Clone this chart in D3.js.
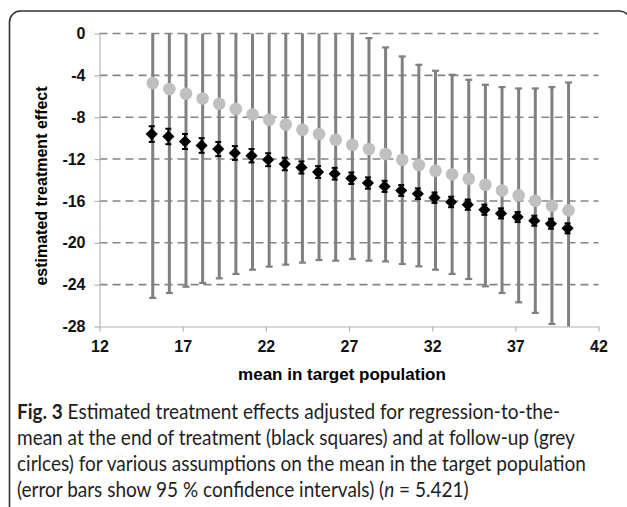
<!DOCTYPE html>
<html>
<head>
<meta charset="utf-8">
<script src="https://cdn.jsdelivr.net/npm/d3@7"></script>
<style>
  html, body { margin: 0; padding: 0; background: #fff; }
  svg { display: block; }
</style>
</head>
<body>
<div id="chart"></div>
<script>
// mean in target population (x positions of the 26 assumptions)
var meanTarget = [15.2, 16.2, 17.2, 18.2, 19.2, 20.2, 21.2, 22.2, 23.2, 24.2, 25.2, 26.2, 27.2,
                  28.2, 29.2, 30.2, 31.2, 32.2, 33.2, 34.2, 35.2, 36.2, 37.2, 38.2, 39.2, 40.2];

// end of treatment (black squares) and its half 95% CI
var endEffect = [-9.61, -9.84, -10.32, -10.70, -11.04, -11.42, -11.68, -12.06, -12.47, -12.80, -13.24, -13.40, -13.83,
                 -14.29, -14.61, -15.00, -15.31, -15.69, -16.10, -16.36, -16.84, -17.19, -17.54, -17.89, -18.18, -18.62];
var endHalfCI = [0.75, 0.74, 0.72, 0.70, 0.68, 0.66, 0.64, 0.62, 0.60, 0.58, 0.57, 0.56, 0.55,
                 0.54, 0.53, 0.52, 0.51, 0.50, 0.50, 0.49, 0.49, 0.48, 0.48, 0.48, 0.48, 0.48];

// follow-up (grey circles) with its 95% CI limits
var fuEffect = [-4.74, -5.31, -5.76, -6.21, -6.71, -7.22, -7.74, -8.24, -8.69, -9.20, -9.61, -10.15, -10.63,
                -11.04, -11.52, -12.06, -12.57, -13.11, -13.45, -13.88, -14.45, -15.00, -15.47, -15.98, -16.46, -16.90];
var fuUpper = [15.79, 14.18, 12.68, 11.42, 9.98, 8.54, 7.09, 5.80, 4.71, 3.50, 2.43, 1.41, 0.29,
               -0.44, -1.33, -2.19, -2.99, -3.56, -3.94, -4.42, -4.90, -5.12, -5.25, -5.25, -5.12, -4.68];
var fuLower = [-25.27, -24.80, -24.20, -23.84, -23.40, -22.98, -22.57, -22.28, -22.09, -21.90, -21.65, -21.71, -21.55,
               -21.71, -21.78, -22.03, -22.25, -22.57, -22.98, -23.46, -24.16, -24.80, -25.69, -26.70, -27.76, -29.12];

var xTicks = [12, 17, 22, 27, 32, 37, 42];
var yTicks = [0, -4, -8, -12, -16, -20, -24, -28];

var captionLines = [
  [{t: "Fig. 3", b: true}, {t: " Estimated treatment effects adjusted for regression-to-the-"}],
  [{t: "mean at the end of treatment (black squares) and at follow-up (grey"}],
  [{t: "cirlces) for various assumptions on the mean in the target population"}],
  [{t: "(error bars show 95 % confidence intervals) ("}, {t: "n", i: true}, {t: " = 5.421)"}]
];

var W = 627, H = 507;
var yMin = -28, yMax = 0;

var svg = d3.select("#chart").append("svg")
    .attr("width", W).attr("height", H);

// frame round figure
svg.append("rect")
    .attr("x", 9.5).attr("y", 11)
    .attr("width", 621).attr("height", 530)
    .attr("rx", 11)
    .style("fill", "none").style("stroke", "#333").style("stroke-width", 1.6);

var x = d3.scaleLinear().domain([12, 42]).range([99.5, 598.5]);
var y = d3.scaleLinear().domain([yMin, yMax]).range([326.5, 33.5]);

var tickFont = "'Liberation Sans', Arial, sans-serif";
var plain = function(d){ return String(d); }; // hyphen minus like the original

// dashed gridlines
svg.append("g").selectAll("line")
    .data(yTicks.filter(function(d){ return d > yMin; }))
    .enter().append("line")
    .attr("x1", x(12)).attr("x2", x(42))
    .attr("y1", function(d){ return y(d); })
    .attr("y2", function(d){ return y(d); })
    .style("stroke", "#858585").style("stroke-width", 1.6)
    .style("stroke-dasharray", "8,5");

// axes
var xAxis = svg.append("g")
    .attr("transform", "translate(0," + y(yMin) + ")")
    .call(d3.axisBottom(x).tickValues(xTicks).tickFormat(plain).tickSize(5).tickSizeOuter(0).tickPadding(9));
var yAxis = svg.append("g")
    .attr("transform", "translate(" + x(12) + ",0)")
    .call(d3.axisLeft(y).tickValues(yTicks).tickFormat(plain).tickSize(5).tickSizeOuter(0).tickPadding(9));

[xAxis, yAxis].forEach(function(a){
  a.selectAll("path, line").style("stroke", "#b3b3b3").style("stroke-width", 1.2);
  a.selectAll("text")
    .style("font-family", tickFont).style("font-weight", "bold")
    .style("font-size", "16px").style("fill", "#111");
});

// axis titles
svg.append("text")
    .attr("x", 342).attr("y", 380)
    .attr("text-anchor", "middle")
    .style("font-family", tickFont).style("font-weight", "bold").style("font-size", "17px")
    .text("mean in target population");
svg.append("text")
    .attr("transform", "translate(47,186) rotate(-90)")
    .attr("text-anchor", "middle")
    .style("font-family", tickFont).style("font-weight", "bold").style("font-size", "16px")
    .text("estimated treatment effect");

var clamp = function(v){ return Math.max(yMin, Math.min(yMax, v)); };
var idx = d3.range(meanTarget.length);

// follow-up CI bars (grey)
var fuBars = svg.append("g").selectAll("g").data(idx).enter().append("g");
fuBars.append("line")
    .attr("x1", function(i){ return x(meanTarget[i]); })
    .attr("x2", function(i){ return x(meanTarget[i]); })
    .attr("y1", function(i){ return y(clamp(fuUpper[i])); })
    .attr("y2", function(i){ return y(clamp(fuLower[i])); })
    .style("stroke", "#808080").style("stroke-width", 3);
fuBars.selectAll(".cap")
    .data(function(i){
      return [fuUpper[i], fuLower[i]].filter(function(v){ return v <= yMax && v >= yMin; })
        .map(function(v){ return {x: meanTarget[i], v: v}; });
    })
    .enter().append("line")
    .attr("class", "cap")
    .attr("x1", function(d){ return x(d.x) - 3.5; })
    .attr("x2", function(d){ return x(d.x) + 3.5; })
    .attr("y1", function(d){ return y(d.v); })
    .attr("y2", function(d){ return y(d.v); })
    .style("stroke", "#808080").style("stroke-width", 2.2);

// follow-up points
svg.append("g").selectAll("circle").data(idx).enter().append("circle")
    .attr("cx", function(i){ return x(meanTarget[i]); })
    .attr("cy", function(i){ return y(fuEffect[i]); })
    .attr("r", 6.3)
    .style("fill", "#c0c0c0");

// end of treatment CI bars (black)
var endBars = svg.append("g").selectAll("g").data(idx).enter().append("g")
    .style("stroke", "#000");
endBars.append("line")
    .attr("x1", function(i){ return x(meanTarget[i]) - 1; })
    .attr("x2", function(i){ return x(meanTarget[i]) - 1; })
    .attr("y1", function(i){ return y(endEffect[i] + endHalfCI[i]); })
    .attr("y2", function(i){ return y(endEffect[i] - endHalfCI[i]); })
    .style("stroke-width", 2);
endBars.selectAll(".cap")
    .data(function(i){ return [endEffect[i] + endHalfCI[i], endEffect[i] - endHalfCI[i]].map(function(v){ return {x: meanTarget[i], v: v}; }); })
    .enter().append("line")
    .attr("x1", function(d){ return x(d.x) - 4; })
    .attr("x2", function(d){ return x(d.x) + 2; })
    .attr("y1", function(d){ return y(d.v); })
    .attr("y2", function(d){ return y(d.v); })
    .style("stroke-width", 2);

// end of treatment points (squares turned 45 degrees)
var square = d3.symbol().type(d3.symbolSquare).size(74);
svg.append("g").selectAll("path").data(idx).enter().append("path")
    .attr("d", square)
    .attr("transform", function(i){ return "translate(" + (x(meanTarget[i]) - 1) + "," + y(endEffect[i]) + ") rotate(45)"; })
    .style("fill", "#000");

// caption: ragged right, one horizontal squeeze taken from the last line
var capFont = "Lato, 'Open Sans', sans-serif";
var capY = [419, 445, 471, 497];
var lastWidth = 452;
var capTexts = captionLines.map(function(parts){
  var g = svg.append("g");
  var t = g.append("text")
      .style("font-family", capFont).style("font-size", "21px").style("fill", "#1e1e1e");
  parts.forEach(function(p){
    t.append("tspan").text(p.t)
      .style("font-weight", p.b ? "bold" : null)
      .style("font-style", p.i ? "italic" : null);
  });
  return {g: g, t: t};
});
var sx = lastWidth / capTexts[3].t.node().getComputedTextLength();
capTexts.forEach(function(c, k){
  c.g.attr("transform", "translate(17," + capY[k] + ") scale(" + sx + ",1)");
});
</script>
</body>
</html>
